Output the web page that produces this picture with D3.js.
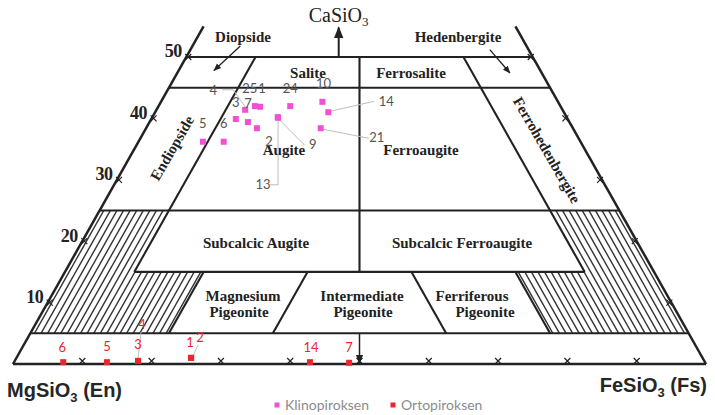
<!DOCTYPE html>
<html>
<head>
<meta charset="utf-8">
<script src="https://cdn.jsdelivr.net/npm/d3@7/dist/d3.min.js"></script>
<style>
  body { margin: 0; background: #fff; }
</style>
</head>
<body>
<div id="chart"></div>
<script>
// pyroxene analyses, Wo and Fs in mol% (En = 100 - Wo - Fs)
var cpxLabels = ["4", "25", "1", "24", "10", "14", "9", "13", "3", "7", "2", "21", "5", "6"];
var cpxWo = [41.4, 42.0, 41.9, 42.0, 42.7, 41.0, 40.2, 40.1, 39.9, 39.4, 38.4, 38.4, 36.2, 36.2];
var cpxFs = [12.8, 13.9, 14.7, 19.0, 23.3, 25.0, 18.1, 18.2, 12.2, 14.2, 16.0, 25.2, 9.3, 12.3];

var opxLabels = ["6", "5", "3", "4", "1", "2", "14", "7"];
var opxWo = [0.3, 0.3, 0.5, 0.5, 1.0, 1.0, 0.3, 0.2];
var opxFs = [7.1, 13.4, 17.8, 17.8, 25.2, 25.2, 42.7, 48.4];

var woTicks = [10, 20, 30, 40, 50];
var fsTicks = [10, 20, 30, 40, 50, 60, 70, 80, 90];

// label placement (pixel offsets from the point, optional leader line)
var cpxLabelOff = [[-32,-19],[-5,-18],[2,-18],[0,-18],[1,-18],[58,-11],[35,27],[-15,67],[0,-17],[0,-19],[12,13],[56,9],[0,-18],[0,-18]];
var cpxLeader = [[[-23,-20],[-12,-20],[0,-3]], null, null, null, null, [[2,-1],[46,-11]], [[1,2],[27,28]], [[0,2],[0,67],[-8,67]], null, null, null, [[2,1],[48,10]], null, null];
var opxLabelOff = [[-1,-15],[0,-16],[0,-16],[4,-36],[-1,-15],[9,-20],[1,-15],[0,-15]];
var opxLeader = [null, null, null, [[3,-29],[0,-3]], null, [[7,-13],[2,-2]], null, null];

var width = 715, height = 415;
var svg = d3.select("#chart")
  .append("svg")
  .attr("width", width)
  .attr("height", height);

// ternary projection: horizontal = Fs + Wo/2, vertical = Wo
var x = d3.scaleLinear().domain([0, 100]).range([13, 706]);
var y = d3.scaleLinear().domain([0, 50]).range([364, 57]);
function px(wo, fs) { return x(fs + wo / 2); }
function py(wo) { return y(wo); }
function fsEn(wo, en) { return 100 - wo - en; }
function mid(wo) { return (100 - wo) / 2; }

var ink = "#222";

// hatched fields
var defs = svg.append("defs");
var leftPoly = [[25,0],[25,10],[15,10],[15,20],[5,20],[5,0]];
var rightPoly = [[25,fsEn(25,0)],[25,fsEn(25,10)],[15,fsEn(15,10)],[15,fsEn(15,20)],[5,fsEn(5,20)],[5,fsEn(5,0)]];
defs.append("clipPath").attr("id", "clipL")
  .append("polygon").attr("points", leftPoly.map(function(p){ return px(p[0],p[1]) + "," + py(p[0]); }).join(" "));
defs.append("clipPath").attr("id", "clipR")
  .append("polygon").attr("points", rightPoly.map(function(p){ return px(p[0],p[1]) + "," + py(p[0]); }).join(" "));

defs.append("marker")
  .attr("id", "arrow")
  .attr("viewBox", "0 0 10 10")
  .attr("refX", 9).attr("refY", 5)
  .attr("markerWidth", 6).attr("markerHeight", 6)
  .attr("orient", "auto")
  .append("path").attr("d", "M0,1 L10,5 L0,9 z").attr("fill", ink);

svg.append("g").attr("clip-path", "url(#clipL)")
  .selectAll("line").data(d3.range(0.6, 21, 0.95)).enter().append("line")
  .attr("x1", function(f){ return px(4, f); }).attr("y1", py(4))
  .attr("x2", function(f){ return px(26, f); }).attr("y2", py(26))
  .attr("stroke", "#333").attr("stroke-width", 1.4);

svg.append("g").attr("clip-path", "url(#clipR)")
  .selectAll("line").data(d3.range(0.6, 21, 0.95)).enter().append("line")
  .attr("x1", function(e){ return px(4, fsEn(4, e)); }).attr("y1", py(4))
  .attr("x2", function(e){ return px(26, fsEn(26, e)); }).attr("y2", py(26))
  .attr("stroke", "#333").attr("stroke-width", 1.4);

// field boundaries, each as [[Wo,Fs],[Wo,Fs]]
var bounds = [
  [[0,0],[55,0]],
  [[0,100],[55,fsEn(55,0)]],
  [[0,0],[0,100]],
  [[50,0],[50,50]],
  [[45,0],[45,55]],
  [[25,0],[25,75]],
  [[15,10],[15,fsEn(15,10)]],
  [[5,0],[5,95]],
  [[15,10],[50,10]],
  [[15,fsEn(15,10)],[50,fsEn(50,10)]],
  [[15,mid(15)],[50,mid(50)]],
  [[5,20],[15,20]],
  [[5,35],[15,35]],
  [[5,fsEn(5,35)],[15,fsEn(15,35)]],
  [[5,fsEn(5,20)],[15,fsEn(15,20)]]
];
svg.append("g").selectAll("line").data(bounds).enter().append("line")
  .attr("x1", function(d){ return px(d[0][0], d[0][1]); })
  .attr("y1", function(d){ return py(d[0][0]); })
  .attr("x2", function(d){ return px(d[1][0], d[1][1]); })
  .attr("y2", function(d){ return py(d[1][0]); })
  .attr("stroke", ink)
  .attr("stroke-width", function(d, i){ return i < 3 ? 2.5 : 2.1; });

// arrow from the Wo=5 line down to the En-Fs join
svg.append("line")
  .attr("x1", px(5, mid(5))).attr("y1", py(5))
  .attr("x2", px(0, mid(0))).attr("y2", py(0) - 1)
  .attr("stroke", ink).attr("stroke-width", 1.5)
  .attr("marker-end", "url(#arrow)");

// tick marks
function cross(g, cx, cy) {
  g.append("path")
    .attr("d", "M" + (cx-3) + "," + (cy-3) + "L" + (cx+3) + "," + (cy+3) + "M" + (cx+3) + "," + (cy-3) + "L" + (cx-3) + "," + (cy+3))
    .attr("stroke", ink).attr("stroke-width", 1.2).attr("fill", "none");
}
var ticks = svg.append("g");
woTicks.forEach(function(w) {
  cross(ticks, px(w, 0) + 2, py(w));
  cross(ticks, px(w, fsEn(w, 0)) - 2, py(w));
});
fsTicks.forEach(function(f) {
  cross(ticks, px(0, f), py(0) - 3);
});

// Wo scale numbers on the left edge
svg.append("g").selectAll("text").data(woTicks).enter().append("text")
  .attr("x", function(w){ return px(w, 0) - 13; })
  .attr("y", function(w){ return py(w) - 6; })
  .attr("dy", "0.35em")
  .attr("text-anchor", "middle")
  .attr("font-family", "Liberation Serif, serif")
  .attr("font-weight", "bold")
  .attr("font-size", "18px")
  .attr("fill", ink)
  .attr("letter-spacing", "-0.5")
  .text(function(w){ return w; });

// CaSiO3 arrow
svg.append("line")
  .attr("x1", x(47)).attr("y1", py(50))
  .attr("x2", x(47)).attr("y2", py(54.8))
  .attr("stroke", ink).attr("stroke-width", 2)
  .attr("marker-end", "url(#arrow)");
var ca = svg.append("text")
  .attr("x", x(47) - 30).attr("y", 22)
  .attr("font-family", "Liberation Serif, serif")
  .attr("font-size", "20px")
  .attr("fill", ink);
ca.append("tspan").text("CaSiO");
ca.append("tspan").attr("dy", 4).attr("font-size", "13px").text("3");

// Diopside / Hedenbergite pointers
svg.append("line")
  .attr("x1", x(32.8)).attr("y1", py(51.8)).attr("x2", x(29)).attr("y2", py(47.8))
  .attr("stroke", ink).attr("stroke-width", 1.3).attr("marker-end", "url(#arrow)");
svg.append("line")
  .attr("x1", x(68.8)).attr("y1", py(51.2)).attr("x2", x(71.7)).attr("y2", py(47.4))
  .attr("stroke", ink).attr("stroke-width", 1.3).attr("marker-end", "url(#arrow)");

// field names
var fields = [
  ["Diopside", 243, 37, 0], ["Hedenbergite", 458, 37, 0],
  ["Salite", 308, 73, 0], ["Ferrosalite", 411, 73, 0],
  ["Augite", 284, 150, 0], ["Ferroaugite", 421, 150, 0],
  ["Endiopside", 172, 148, -60], ["Ferrohedenbergite", 547, 150, 60],
  ["Subcalcic Augite", 256, 243, 0], ["Subcalcic Ferroaugite", 462, 243, 0],
  ["Magnesium", 243, 296, 0], ["Pigeonite", 239, 312, 0],
  ["Intermediate", 362, 296, 0], ["Pigeonite", 363, 312, 0],
  ["Ferriferous", 472, 296, 0], ["Pigeonite", 485, 312, 0]
];
svg.append("g").selectAll("text").data(fields).enter().append("text")
  .attr("transform", function(d){ return "translate(" + d[1] + "," + d[2] + ") rotate(" + d[3] + ")"; })
  .attr("dy", "0.35em")
  .attr("text-anchor", "middle")
  .attr("font-family", "Liberation Serif, serif")
  .attr("font-weight", "bold")
  .attr("font-size", "15px")
  .attr("fill", ink)
  .text(function(d){ return d[0]; });

// end member names
var en = svg.append("text")
  .attr("x", 7).attr("y", 397)
  .attr("font-family", "Liberation Sans, Arial, sans-serif")
  .attr("font-weight", "bold").attr("font-size", "20px").attr("fill", "#262626");
en.append("tspan").text("MgSiO");
en.append("tspan").attr("dy", 5).attr("font-size", "13px").text("3");
en.append("tspan").attr("dy", -5).text(" (En)");

var fs = svg.append("text")
  .attr("x", 707).attr("y", 392)
  .attr("text-anchor", "end")
  .attr("font-family", "Liberation Sans, Arial, sans-serif")
  .attr("font-weight", "bold").attr("font-size", "20px").attr("fill", "#262626");
fs.append("tspan").text("FeSiO");
fs.append("tspan").attr("dy", 5).attr("font-size", "13px").text("3");
fs.append("tspan").attr("dy", -5).text(" (Fs)");

// build point tables
var cpx = cpxLabels.map(function(l, i){ return {label: l, wo: cpxWo[i], fs: cpxFs[i], off: cpxLabelOff[i], leader: cpxLeader[i]}; });
var opx = opxLabels.map(function(l, i){ return {label: l, wo: opxWo[i], fs: opxFs[i], off: opxLabelOff[i], leader: opxLeader[i]}; });

function drawSeries(data, color, labelColor, leaderColor) {
  var g = svg.append("g");
  g.selectAll("polyline").data(data.filter(function(d){ return d.leader; })).enter().append("polyline")
    .attr("points", function(d){
      var cx = px(d.wo, d.fs), cy = py(d.wo);
      return d.leader.map(function(p){ return (cx + p[0]) + "," + (cy + p[1]); }).join(" ");
    })
    .attr("fill", "none").attr("stroke", leaderColor).attr("stroke-width", 1);
  g.selectAll("rect").data(data).enter().append("rect")
    .attr("x", function(d){ return px(d.wo, d.fs) - 3; })
    .attr("y", function(d){ return py(d.wo) - 3; })
    .attr("width", 6).attr("height", 6)
    .attr("fill", color);
  g.selectAll("text").data(data).enter().append("text")
    .attr("x", function(d){ return px(d.wo, d.fs) + d.off[0]; })
    .attr("y", function(d){ return py(d.wo) + d.off[1]; })
    .attr("dy", "0.35em")
    .attr("text-anchor", "middle")
    .attr("font-family", "Lato, sans-serif")
    .attr("font-size", "13px")
    .attr("fill", labelColor)
    .text(function(d){ return d.label; });
}
drawSeries(cpx, "#f050d2", "#555", "#bdbdbd");
drawSeries(opx, "#e8262c", "#e8262c", "#bdbdbd");

// legend
var legend = [["Klinopiroksen", "#f050d2", 277], ["Ortopiroksen", "#e8262c", 393]];
var lg = svg.append("g");
legend.forEach(function(d) {
  lg.append("rect").attr("x", d[2] - 2.5).attr("y", 402.5).attr("width", 5).attr("height", 5).attr("fill", d[1]);
  lg.append("text").attr("x", d[2] + 8).attr("y", 405).attr("dy", "0.35em")
    .attr("font-family", "Lato, sans-serif").attr("font-size", "14px").attr("fill", "#8c8c8c")
    .text(d[0]);
});
</script>
</body>
</html>
